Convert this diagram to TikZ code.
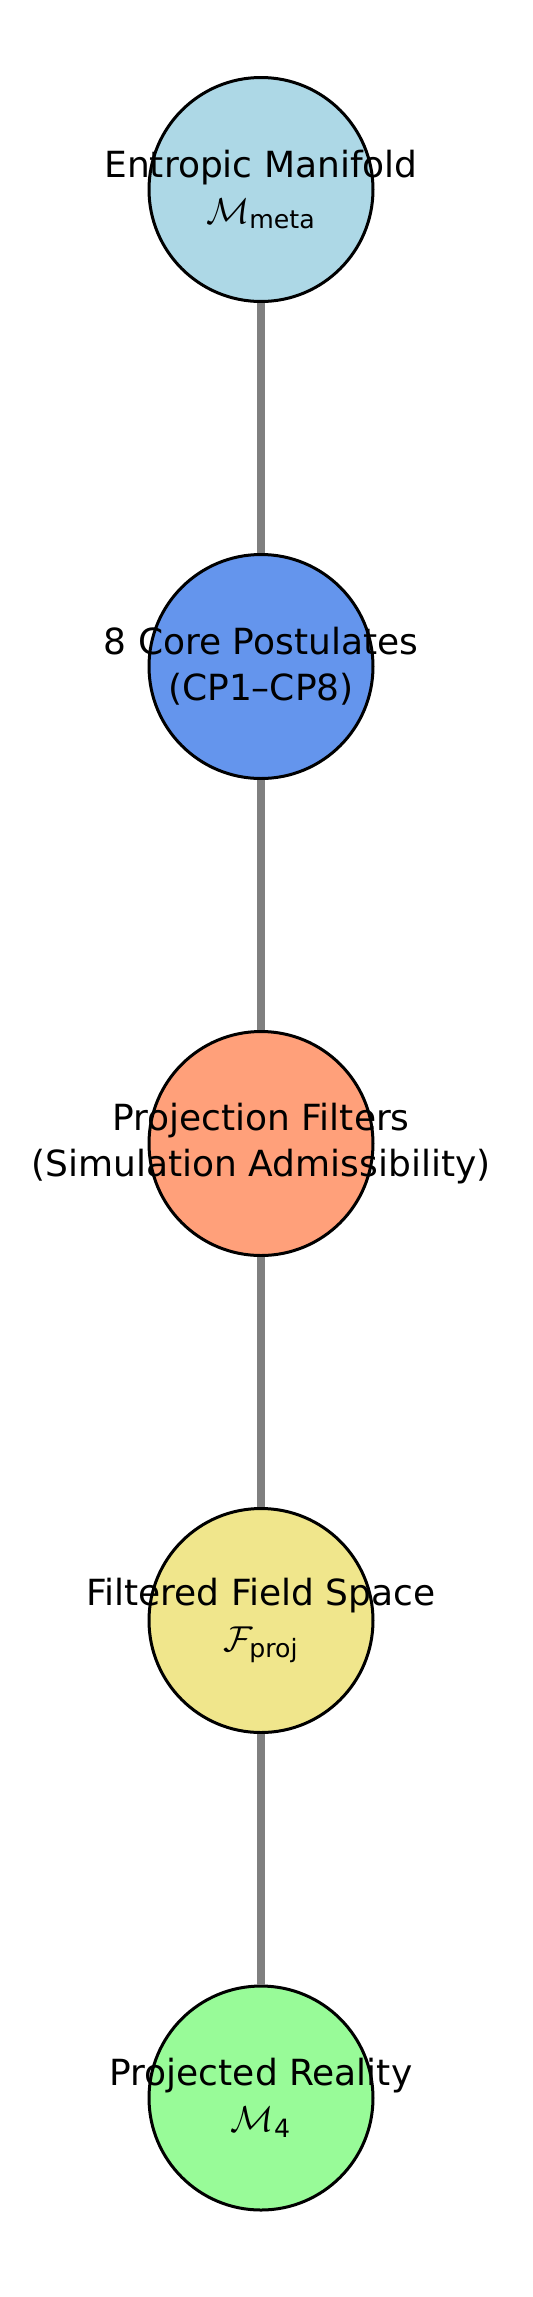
\documentclass[tikz,border=0pt]{standalone}
\usepackage{fix-cm}
\usepackage{amsmath}
\usepackage{fontspec}
\setmainfont{DejaVu Sans}
\definecolor{manifoldblue}{HTML}{ADD8E6}
\definecolor{postulateblue}{HTML}{6495ED}
\definecolor{filtersalmon}{HTML}{FFA07A}
\definecolor{fieldkhaki}{HTML}{F0E68C}
\definecolor{realitygreen}{HTML}{98FB98}
\begin{document}
\begin{tikzpicture}[x = .5pt, y = -.5pt,
		stage/.style = {circle, draw = black, line width = 1.5pt, minimum size = 112pt, inner sep = 0pt},
		stagetext/.style = {align = center, font = \fontsize{18}{23}\selectfont},
		link/.style = {draw = gray, line width = 4pt}]
	\useasboundingbox (0,0) rectangle (532,2297);
	\node[stage, fill = manifoldblue] (meta) at (261,189.5) {}; %top
	\node[stage, fill = postulateblue] (core) at (261,666.5) {};
	\node[stage, fill = filtersalmon] (filters) at (261,1143.5) {};
	\node[stage, fill = fieldkhaki] (field) at (261,1620.5) {};
	\node[stage, fill = realitygreen] (reality) at (261,2098) {}; %bottom
	\draw[link] (meta) -- (core);
	\draw[link] (core) -- (filters);
	\draw[link] (filters) -- (field);
	\draw[link] (field) -- (reality);
	\node[stagetext] (meta-txt) at (meta) {Entropic Manifold\\$\mathcal{M}_{\text{meta}}$};
	\node[stagetext] (core-txt) at (core) {8 Core Postulates\\(CP1–CP8)};
	\node[stagetext] (filters-txt) at (filters) {Projection Filters\\(Simulation Admissibility)};
	\node[stagetext] (field-txt) at (field) {Filtered Field Space\\$\mathcal{F}_{\text{proj}}$};
	\node[stagetext] (reality-txt) at (reality) {Projected Reality\\$\mathcal{M}_{\text{4}}$};
\end{tikzpicture}
\end{document}
